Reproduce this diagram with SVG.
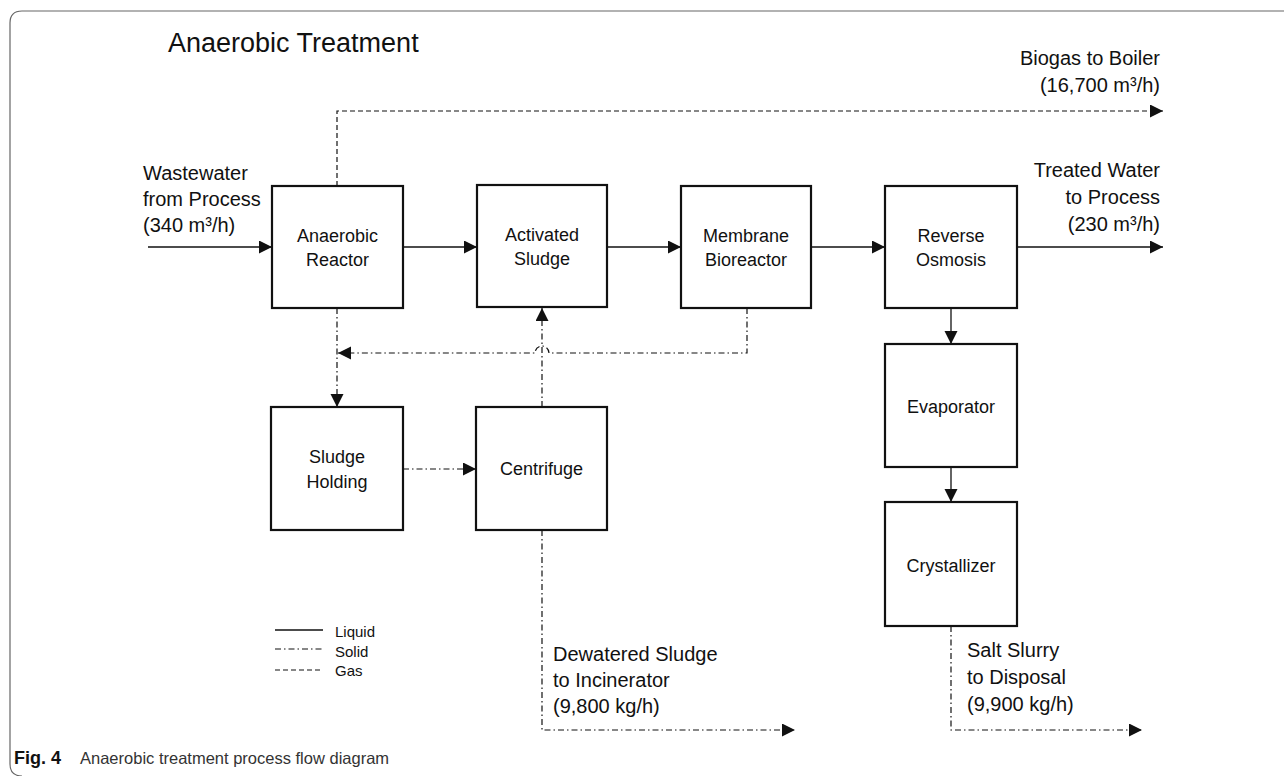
<svg xmlns="http://www.w3.org/2000/svg" width="1284" height="776" viewBox="0 0 1284 776">
<defs>
<style>
text{font-family:"Liberation Sans",Arial,sans-serif;fill:#111}
.box{fill:#fff;stroke:#111;stroke-width:2.2}
.nl{font-size:18px;text-anchor:middle}
.fl{font-size:20px}
.liq{fill:none;stroke:#111;stroke-width:1.3}
.sol{fill:none;stroke:#111;stroke-width:1.2;stroke-dasharray:6 3 1.5 3}
.gas{fill:none;stroke:#111;stroke-width:1.2;stroke-dasharray:5 3}
</style>
<marker id="ah" markerUnits="userSpaceOnUse" markerWidth="14" markerHeight="14" refX="13" refY="6.5" orient="auto">
<path d="M0,0 L13,6.5 L0,13 z" fill="#111"/>
</marker>
</defs>
<rect width="1284" height="776" fill="#fff"/>
<path d="M1284 11 H22 Q10 11 10 23 V764 Q10 776 22 776" fill="none" stroke="#666" stroke-width="1.2"/>
<text x="168" y="52" font-size="27">Anaerobic Treatment</text>

<g id="connectors">
<path class="liq" d="M148 247 H272" marker-end="url(#ah)"/>
<path class="liq" d="M403 247 H477" marker-end="url(#ah)"/>
<path class="liq" d="M607 247 H681" marker-end="url(#ah)"/>
<path class="liq" d="M811 247 H885" marker-end="url(#ah)"/>
<path class="liq" d="M1017 247 H1163" marker-end="url(#ah)"/>
<path class="liq" d="M951 308 V344" marker-end="url(#ah)"/>
<path class="liq" d="M951 467 V502" marker-end="url(#ah)"/>
<path class="gas" d="M337 186 V111 H1163" marker-end="url(#ah)"/>
<path class="sol" d="M337 308 V407" marker-end="url(#ah)"/>
<path class="sol" d="M747 308 V353 H549 A7 7 0 0 0 535 353 H338" marker-end="url(#ah)"/>
<path class="sol" d="M542 407 V308" marker-end="url(#ah)"/>
<path class="sol" d="M403 469 H476" marker-end="url(#ah)"/>
<path class="sol" d="M542 530 V730 H795" marker-end="url(#ah)"/>
<path class="sol" d="M951 626 V730 H1142" marker-end="url(#ah)"/>
</g>

<g id="anaerobic-reactor"><rect class="box" x="272" y="186" width="131" height="122"/><text class="nl" x="337.5" y="242">Anaerobic</text><text class="nl" x="337.5" y="266">Reactor</text></g>
<g id="activated-sludge"><rect class="box" x="477" y="185" width="130" height="122"/><text class="nl" x="542" y="241">Activated</text><text class="nl" x="542" y="265">Sludge</text></g>
<g id="membrane-bioreactor"><rect class="box" x="681" y="186" width="130" height="122"/><text class="nl" x="746" y="242">Membrane</text><text class="nl" x="746" y="266">Bioreactor</text></g>
<g id="reverse-osmosis"><rect class="box" x="885" y="186" width="132" height="122"/><text class="nl" x="951" y="242">Reverse</text><text class="nl" x="951" y="266">Osmosis</text></g>
<g id="evaporator"><rect class="box" x="885" y="344" width="132" height="123"/><text class="nl" x="951" y="413">Evaporator</text></g>
<g id="crystallizer"><rect class="box" x="885" y="502" width="132" height="124"/><text class="nl" x="951" y="572">Crystallizer</text></g>
<g id="sludge-holding"><rect class="box" x="271" y="407" width="132" height="123"/><text class="nl" x="337" y="463">Sludge</text><text class="nl" x="337" y="488">Holding</text></g>
<g id="centrifuge"><rect class="box" x="476" y="407" width="131" height="123"/><text class="nl" x="541.5" y="475">Centrifuge</text></g>

<g id="flow-labels" class="fl">
<text class="fl" x="143" y="180">Wastewater</text>
<text class="fl" x="143" y="206">from Process</text>
<text class="fl" x="143" y="232">(340 m³/h)</text>
<text class="fl" x="1160" y="65" text-anchor="end">Biogas to Boiler</text>
<text class="fl" x="1160" y="92" text-anchor="end">(16,700 m³/h)</text>
<text class="fl" x="1160" y="177" text-anchor="end">Treated Water</text>
<text class="fl" x="1160" y="204" text-anchor="end">to Process</text>
<text class="fl" x="1160" y="231" text-anchor="end">(230 m³/h)</text>
<text class="fl" x="553" y="661">Dewatered Sludge</text>
<text class="fl" x="553" y="687">to Incinerator</text>
<text class="fl" x="553" y="713">(9,800 kg/h)</text>
<text class="fl" x="967" y="657">Salt Slurry</text>
<text class="fl" x="967" y="684">to Disposal</text>
<text class="fl" x="967" y="711">(9,900 kg/h)</text>
</g>

<g id="legend">
<path class="liq" d="M275 630 H323"/>
<path class="sol" d="M275 649 H323"/>
<path class="gas" d="M275 670 H323"/>
<text x="335" y="637" font-size="15">Liquid</text>
<text x="335" y="657" font-size="15">Solid</text>
<text x="335" y="676" font-size="15">Gas</text>
</g>

<g id="caption">
<text x="14" y="764" font-size="16.5"><tspan font-weight="bold" font-size="18">Fig. 4</tspan><tspan x="80" fill="#333">Anaerobic treatment process flow diagram</tspan></text>
</g>
</svg>
